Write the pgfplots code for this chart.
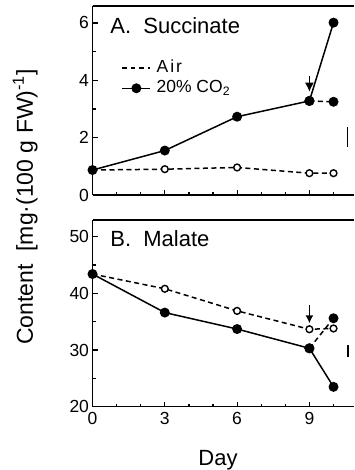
\documentclass[border=0pt]{standalone}
\usepackage{fontspec}
\setmainfont{Liberation Sans}
\usepackage{pgfplots}
\pgfplotsset{compat=1.18}
\usetikzlibrary{arrows.meta}
\newcommand{\fs}[1]{\fontsize{#1}{#1}\selectfont}
\begin{document}
\begin{tikzpicture}
\pgfplotsset{
  panel/.style={
    scale only axis, width=261.5pt,
    xmin=0, xmax=10.85,
    axis x line=box, axis y line=left,
    axis line style={-, line width=1.4pt},
    every outer y axis line/.append style={-},
    every outer x axis line/.append style={-},
    xtick={0,3,6,9}, minor xtick={1,2,4,5,7,8,10},
    xtick pos=left, ytick pos=left, tick align=inside,
    major tick length=5pt, minor tick length=3pt,
    every tick/.style={black, line width=1.2pt},
    tick label style={font=\fs{17.5}},
    /pgf/number format/assume math mode=true,
    clip=false,
  },
  air/.style={black, line width=1.5pt, dash pattern=on 5pt off 3.5pt, mark=*, mark size=3.4pt, mark options={solid, fill=white, line width=1.4pt}},
  co2/.style={black, line width=1.5pt, mark=*, mark size=4.2pt, mark options={solid, fill=black}},
  trans/.style={black, line width=1.5pt, dash pattern=on 5pt off 3.5pt, mark=*, mark size=4.2pt, mark options={solid, fill=black}},
}
% ---------- A. Succinate ----------
\begin{axis}[panel, height=189pt, ymin=0, ymax=6.59,
  ytick={0,2,4,6}, minor ytick={1,3,5}, xticklabels={},
  legend style={at={(axis cs:1.2,4.8)}, anchor=north west, draw=none, fill=none,
    font=\fs{17.5}, row sep=0pt, column sep=3pt, inner sep=0pt,
    nodes={inner sep=2.5pt, text height=12pt, text depth=3.5pt}},
  legend cell align=left,
  legend image code/.code={\draw[mark repeat=2,mark phase=2,#1] plot coordinates {(0pt,0pt) (14pt,0pt) (28pt,0pt)};}]
\addlegendimage{black, line width=1.5pt, dash pattern=on 4.5pt off 4pt}
\addlegendentry{A\hspace{2pt}i\hspace{2pt}r}
\addlegendimage{black, line width=1.5pt, mark=*, mark size=4.2pt}
\addlegendentry{20\% CO\textsubscript{2}}
\addplot[air, forget plot] coordinates {(0,0.87) (3,0.90) (6,0.96) (9,0.76) (10,0.76)};
\addplot[trans, forget plot] coordinates {(9,3.28) (10,3.25)};
\addplot[co2, forget plot] coordinates {(0,0.87) (3,1.55) (6,2.73) (9,3.28) (10,6.01)};
\addplot[black, line width=1.2pt, forget plot] coordinates {(10.59,1.69) (10.59,2.38)};
\draw[-{Latex[length=9pt,width=9pt]}, line width=1.5pt] (axis cs:9,4.15) -- (axis cs:9,3.6);
\node[anchor=base west, font=\fs{22}] at (rel axis cs:0.055,0.857) {A.\ \ Succinate};
\end{axis}
% ---------- B. Malate ----------
\begin{axis}[panel, at={(0pt,-211.7pt)}, anchor=south west, height=186.7pt,
  ymin=20, ymax=52.93, ytick={20,30,40,50}, minor ytick={25,35,45},
  xticklabel style={yshift=-2pt},
  xlabel={Day}, xlabel style={at={(axis description cs:0.48,-0.3123)}, anchor=base, font=\fs{22}}]
\addplot[air] coordinates {(0,43.4) (3,40.8) (6,36.9) (9,33.66) (10,33.8)};
\addplot[trans] coordinates {(9,30.3) (10,35.6)};
\addplot[co2] coordinates {(0,43.4) (3,36.6) (6,33.7) (9,30.3) (10,23.5)};
\addplot[black, line width=1.2pt] coordinates {(10.6,28.8) (10.6,30.9)};
\draw[-{Latex[length=8pt,width=8pt]}, line width=1.5pt] (axis cs:9,37.9) -- (axis cs:9,34.7);
\node[anchor=base west, font=\fs{22}] at (rel axis cs:0.055,0.857) {B.\ \ Malate};
\end{axis}
\node[rotate=90, anchor=base, font=\fs{23}] at (-59.5pt,-12pt) {Content\ \ [mg·(100 g FW)\textsuperscript{-1}]};
\pgfresetboundingbox
\path[use as bounding box] (-92.5pt,-275pt) rectangle (261.5pt,195pt);
\end{tikzpicture}
\end{document}
